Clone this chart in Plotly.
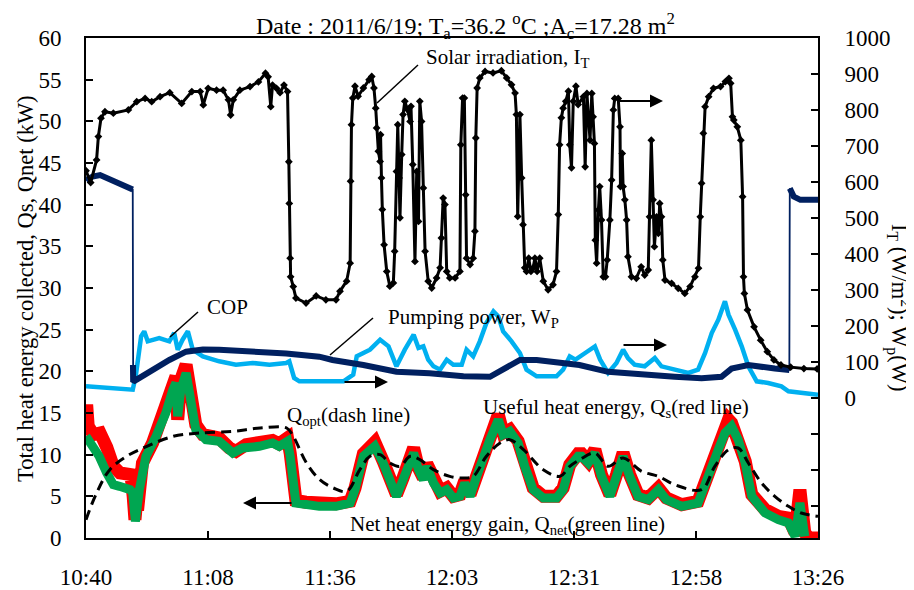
import plotly.graph_objects as go

# ---------------- data ----------------
x_tick_vals = [0, 27.67, 55.33, 83.0, 110.67, 138.33, 166.0]   # minutes after 10:40
x_tick_text = ["10:40", "11:08", "11:36", "12:03", "12:31", "12:58", "13:26"]

# Solar irradiation I_T (W/m2)  (minute, value)
solar = [(0, 631), (1.06, 598), (2.4, 661), (2.8, 726), (3.4, 777), (4.3, 795), (6.2, 791), (9.6, 800),
         (11.5, 823), (13.4, 832), (14.9, 823), (16.8, 837), (19, 848), (21.7, 818), (24, 851), (25.9, 851),
         (26.6, 814), (27.7, 860), (29.6, 855), (31.1, 855), (32.3, 828), (32.8, 786), (33.4, 828), (34.9, 855),
         (37.2, 865), (39.1, 878), (40.7, 902), (41.3, 892), (41.9, 809), (42.3, 869), (43.2, 860), (44, 848),
         (44.9, 869), (45.7, 851), (46, 656), (46.1, 540), (46.3, 388), (46.4, 336), (47, 309), (47.6, 277),
         (49.9, 263), (52.2, 283), (54.4, 272), (56.7, 272), (57.6, 296), (59.1, 324), (59.9, 374), (60.0, 602),
         (60.2, 759), (60.5, 833), (61, 866), (61.7, 838), (62.9, 861), (64.2, 884), (64.8, 893), (65.3, 861),
         (65.7, 805), (65.9, 750), (66.3, 685), (66.7, 657), (66.8, 731), (67, 611), (67.2, 523), (67.6, 425),
         (68.2, 351), (68.9, 310), (69.7, 319), (70, 407), (70.4, 629), (70.7, 759), (71, 611), (71.2, 500),
         (71.6, 676), (71.9, 787), (72.3, 824), (72.9, 801), (73.5, 768), (73.7, 810), (74.1, 648), (74.6, 379),
         (75.0, 629), (75.4, 490), (75.7, 824), (76.1, 768), (76.5, 583), (76.9, 407), (77.6, 324), (78.4, 305),
         (79.5, 333), (80.3, 361), (80.6, 444), (81, 555), (81.4, 537), (81.8, 351), (82.5, 333), (83.7, 333),
         (84.8, 351), (85.0, 703), (85.4, 833), (85.8, 833), (86.1, 564), (86.3, 388), (87.1, 370), (87.8, 388),
         (88.2, 463), (88.4, 722), (88.7, 861), (89.3, 889), (90.5, 907), (92.3, 903), (94.2, 909), (95.4, 889),
         (96.5, 870), (97.3, 847), (97.6, 787), (97.9, 504), (98.4, 787), (98.8, 611), (99.1, 481), (99.5, 361),
         (99.9, 351), (100.4, 388), (100.9, 351), (101.4, 361), (101.8, 388), (102.3, 351), (102.9, 388),
         (103.7, 324), (104.8, 300), (105.9, 314), (106.7, 351), (107.1, 509), (107.4, 703), (107.8, 778),
         (108.2, 805), (108.8, 824), (109.4, 852), (109.7, 703), (110.1, 639), (110.5, 824), (111.1, 866),
         (111.6, 815), (112.8, 837), (113.2, 642), (113.6, 846), (114.3, 716), (114.7, 846), (115.0, 781),
         (115.3, 707), (115.5, 438), (115.8, 374), (116.2, 522), (116.5, 587), (116.9, 494), (117.3, 336),
         (117.8, 336), (118.2, 383), (118.8, 494), (119.2, 605), (119.6, 800), (119.9, 832), (120.7, 832),
         (121.1, 753), (121.2, 587), (121.6, 679), (121.8, 587), (122.2, 550), (122.6, 494), (122.9, 392),
         (123.7, 336), (124.8, 332), (125.9, 364), (126.7, 341), (127.5, 355), (127.8, 503), (128.2, 716),
         (128.6, 550), (128.9, 420), (129.4, 503), (129.8, 457), (130.1, 540), (130.5, 503), (130.8, 383),
         (131.3, 327), (132.8, 318), (134.3, 304), (135.8, 290), (137, 309), (138.1, 336), (138.9, 360),
         (139.3, 503), (139.6, 596), (140, 735), (140.4, 809), (141.2, 837), (142.3, 860), (143.9, 865),
         (145, 879), (145.8, 888), (146.2, 874), (146.6, 781), (146.9, 772), (147.7, 753), (148.5, 716),
         (148.9, 559), (149.1, 336), (149.3, 290), (150.0, 244), (151.5, 197), (153, 160), (154.5, 128),
         (156, 105), (157.6, 91), (159.8, 85), (162.8, 81), (165.8, 80)]

# Pumping power W_P (W)
pump = [(0, 605), (1.5, 615), (3.2, 619), (6, 605), (9, 590), (10.6, 579), (10.65, 91), (10.7, 44),
        (11.3, 49), (15.1, 77), (18.9, 105), (22.7, 128), (26.5, 134), (30.2, 133), (37.8, 130), (45.4, 123),
        (52.9, 114), (55.9, 105), (62.9, 91), (70.4, 72), (77.9, 68), (85.6, 60), (91.6, 58), (94.6, 77),
        (98.4, 105), (102.2, 105), (108.2, 96), (111.9, 91), (118.4, 72), (126, 63), (133.5, 58), (139.6, 54),
        (144.1, 58), (146.4, 81), (150.2, 91), (156.2, 81), (159.5, 77), (159.6, 582), (160.5, 559),
        (162, 550), (166, 550)]

# COP
cop = [(0, 18.2), (5, 18.0), (10.6, 17.8), (11.3, 19.5), (12.5, 24.2), (13.2, 24.8), (14, 23.6), (16.6, 24.0),
       (18.9, 23.6), (20, 24.6), (20.8, 22.6), (21.9, 23.8), (23.1, 24.8), (24.2, 22.6), (26.5, 21.8),
       (30.2, 21.2), (34, 20.8), (37.8, 21.0), (41.6, 20.8), (45.4, 21.0), (46.1, 21.2), (47.2, 19.2),
       (48.4, 18.8), (52.9, 18.8), (56.7, 18.8), (58.4, 18.8), (60.6, 19.6), (61.4, 21.8), (62.9, 22.2),
       (64.4, 22.6), (66.7, 23.8), (68.6, 23.0), (70.4, 20.6), (72.3, 22.6), (74.3, 24.4), (75.4, 22.8),
       (76.5, 23.0), (77.6, 21.4), (78.8, 20.6), (80.3, 20.2), (81.8, 21.4), (83.3, 20.8), (85.2, 20.8),
       (86.3, 22.6), (87.8, 21.8), (89.3, 23.6), (90.8, 25.8), (92.4, 27.2), (93.5, 26.6), (94.6, 24.8),
       (96.5, 23.6), (98.4, 22.2), (99.9, 20.2), (102.2, 19.4), (106.7, 19.4), (108.2, 20.2), (109.7, 21.8),
       (111, 21.4), (113.2, 22.2), (115.4, 23.0), (116.6, 21.4), (118.4, 19.8), (120.3, 21.0), (121.8, 22.6),
       (122.9, 21.6), (124.4, 20.8), (126.7, 20.6), (129, 21.6), (130.5, 20.6), (133.5, 20.2), (136.6, 19.8),
       (138.8, 20.2), (140.4, 22.2), (141.9, 24.6), (143.4, 26.2), (144.9, 28.4), (145.7, 26.8), (147.2, 25.0),
       (148.7, 23.0), (150.2, 20.6), (152.1, 18.8), (154.7, 18.6), (157.7, 18.2), (159.3, 17.6), (162.2, 17.4),
       (166, 17.2)]

# Useful heat energy Q_s (kW)
q_s = [(0, 13.8), (0.15, 16.0), (0.5, 13.4), (1.7, 12.4), (3.2, 12.6), (4.7, 10.9), (6.2, 8.6), (7.7, 7.8),
       (10.2, 7.6), (10.7, 5.0), (11.1, 2.2), (11.5, 4.5), (11.9, 4.4), (12.8, 9.0), (15.1, 11.4), (17.4, 14.6),
       (19.3, 17.0), (20.4, 19.4), (20.8, 14.2), (21.5, 19.0), (22.7, 20.8), (23.4, 19.0), (24.9, 13.6),
       (26.5, 12.4), (30.2, 12.0), (32.5, 10.8), (34, 10.4), (36.3, 11.2), (39.3, 11.3), (42.3, 11.7),
       (43.8, 11.3), (45.7, 12.0), (46.3, 10.2), (46.9, 6.2), (47.6, 4.5), (49.9, 4.3), (52.2, 4.2), (54.4, 4.1),
       (56.7, 4.1), (59.9, 4.4), (61, 6.0), (62.9, 10.1), (64.4, 10.9), (65.5, 11.5), (67.4, 9.2), (68.9, 6.8),
       (70.4, 5.2), (71.9, 7.2), (74.3, 10.8), (75.4, 8.4), (76.5, 7.2), (77.3, 8.9), (78.8, 6.8), (80.3, 5.6),
       (81.8, 6.0), (83.3, 5.0), (84.8, 5.2), (85.9, 6.9), (87.1, 5.2), (88.6, 7.6), (90.1, 10.0), (91.6, 12.0),
       (93.5, 14.8), (94.6, 12.6), (96.1, 13.0), (98, 11.6), (99.5, 8.8), (101.4, 6.0), (103.7, 5.0),
       (106.7, 5.0), (108.2, 6.0), (109.7, 8.8), (111.6, 10.1), (112.4, 10.1), (113.9, 9.2), (115.4, 10.6),
       (116.9, 7.6), (118.8, 5.2), (120.3, 7.6), (121.8, 10.2), (123.3, 7.6), (125.2, 5.2), (127.5, 4.8),
       (129.8, 6.0), (131.6, 4.8), (135.1, 4.0), (138.8, 4.4), (140.4, 6.8), (141.9, 9.2), (143.4, 10.9),
       (144.9, 13.0), (145.7, 14.2), (146.4, 13.8), (147.9, 12.0), (149.5, 9.2), (151, 5.2), (154, 3.4),
       (157, 2.6), (159.3, 2.4), (160.8, 0.6), (161.9, 5.8), (163, 0.6), (164, 0.0), (166, 0.0)]

# Net heat energy gain Q_net (kW)
q_net = [(0, 12.2), (1, 11.4), (2.4, 10.2), (3, 9.8), (4.7, 7.8), (6.2, 6.4), (7.6, 6.2), (10, 5.8), (10.6, 5.4),
         (10.9, 2.2), (11.2, 2.0), (12.1, 5.8), (13.6, 9.8), (15.9, 12.2), (18.1, 15.0), (19.7, 17.8),
         (20.4, 18.6), (20.8, 14.6), (21.5, 17.8), (22.7, 19.8), (23.4, 17.8), (24.9, 13.0), (27.2, 11.8),
         (30.2, 11.6), (33.3, 10.2), (35.5, 10.8), (39.3, 11.0), (42.3, 11.4), (43.8, 11.0), (45.7, 11.6),
         (46.3, 9.8), (46.9, 5.8), (47.6, 4.2), (52.9, 3.8), (56.7, 3.8), (59.9, 4.2), (61, 5.8), (62.9, 9.8),
         (64.4, 10.6), (65.5, 11.0), (67.4, 9.0), (68.9, 6.6), (70.4, 5.0), (71.9, 7.0), (74.3, 10.2), (75.4, 8.2),
         (76.5, 7.0), (77.3, 8.6), (78.8, 6.6), (80.3, 5.4), (81.8, 5.8), (83.3, 4.8), (84.8, 5.0), (85.9, 6.6),
         (87.1, 5.0), (88.6, 7.4), (90.1, 9.8), (91.6, 11.8), (93.5, 14.2), (94.6, 12.4), (96.1, 12.8),
         (98, 11.4), (99.5, 8.6), (101.4, 5.8), (103.7, 4.8), (106.7, 4.8), (108.2, 5.8), (109.7, 8.6),
         (111.6, 9.8), (112.4, 9.8), (113.9, 9.0), (115.4, 10.2), (116.9, 7.4), (118.8, 5.0), (120.3, 7.4),
         (121.8, 9.8), (123.3, 7.4), (125.2, 5.0), (127.5, 4.6), (129.8, 5.8), (131.6, 4.6), (135.1, 3.8),
         (138.8, 4.2), (140.4, 6.6), (141.9, 9.0), (143.4, 10.6), (144.9, 12.6), (146.4, 13.4), (147.9, 11.8),
         (149.5, 9.0), (151, 5.0), (154, 3.0), (157, 2.2), (159.3, 1.8), (160.8, 0.2), (161.9, 4.2), (163, 0.2)]

# Optimal heat Q_opt (kW)
q_opt = [(0, 2.2), (2.4, 5.4), (5.4, 8.2), (9.2, 9.8), (13.8, 11.0), (19.8, 12.2), (25.8, 12.6), (33.4, 12.8),
         (39.5, 13.2), (45.5, 13.2), (47, 12.2), (50, 9.0), (53, 7.0), (56.1, 6.0), (59.1, 5.6), (62.1, 8.2),
         (64.4, 9.8), (66.7, 10.0), (68.9, 9.0), (71.2, 8.6), (73.5, 9.8), (75.7, 9.4), (78.8, 8.2), (82.5, 7.4),
         (85.6, 7.2), (87.8, 7.4), (90.8, 9.8), (93.9, 11.4), (96.1, 11.8), (99.2, 10.6), (103.7, 8.2),
         (107.5, 7.4), (109.7, 8.6), (112, 9.4), (115.4, 10.2), (118.4, 8.6), (121.8, 9.6), (126, 8.0),
         (129.8, 7.4), (133.5, 6.4), (139.6, 5.8), (142.6, 8.6), (145.7, 10.6), (147.9, 10.8), (150.2, 9.0),
         (153.2, 6.6), (156.2, 5.0), (159.3, 3.8), (162.2, 3.0), (166, 2.6)]


def unzip(pairs):
    return [p[0] for p in pairs], [p[1] for p in pairs]


FONT = "Liberation Serif"
fig = go.Figure()

# Q_s (red) and Q_net (green) bands
x, y = unzip(q_s)
fig.add_trace(go.Scatter(x=x, y=y, mode="lines", line=dict(color="#FF0000", width=13), yaxis="y"))
x, y = unzip(q_net)
fig.add_trace(go.Scatter(x=x, y=y, mode="lines", line=dict(color="#00A651", width=9), yaxis="y"))
# Q_opt dashed
x, y = unzip(q_opt)
fig.add_trace(go.Scatter(x=x, y=y, mode="lines",
                         line=dict(color="black", width=3, dash="10px,6px", shape="spline"), yaxis="y"))
# COP
x, y = unzip(cop)
fig.add_trace(go.Scatter(x=x, y=y, mode="lines", line=dict(color="#00B0F0", width=4.5), yaxis="y"))

# Pumping power: thin full line + thick segments between jumps
x, y = unzip(pump)
fig.add_trace(go.Scatter(x=x, y=y, mode="lines", line=dict(color="#002060", width=1.8), yaxis="y2"))
seg_start = 0
for i in range(1, len(y) + 1):
    if i == len(y) or abs(y[i] - y[i - 1]) > 300:
        xs, ys = x[seg_start:i], y[seg_start:i]
        if len(xs) > 1:
            fig.add_trace(go.Scatter(x=xs, y=ys, mode="lines", line=dict(color="#002060", width=6),
                                     yaxis="y2"))
        seg_start = i

# Solar irradiation
x, y = unzip(solar)
fig.add_trace(go.Scatter(x=x, y=y, mode="lines+markers", line=dict(color="black", width=3),
                         marker=dict(symbol="diamond", size=6, color="black"), yaxis="y2"))


# positions given in screen pixels of the 914x590 view (plot area 86..818 x 38..538)
def px(xp):
    return (xp - 86) / 732.0


def py(yp):
    return (538 - yp) / 500.0


ann_font = dict(family=FONT, size=21, color="black")
annotations = [
    dict(x=px(465), y=py(26), text="Date : 2011/6/19; T<sub>a</sub>=36.2 <sup>o</sup>C ;A<sub>c</sub>=17.28 m<sup>2</sup>",
         xanchor="center", yanchor="middle", font=dict(family=FONT, size=24, color="black")),
    dict(x=px(25), y=py(289), text="Total heat energy collected, Qs, Qnet (kW)", textangle=-90,
         xanchor="center", yanchor="middle", font=dict(family=FONT, size=22.5, color="black")),
    dict(x=px(899), y=py(307), text="I<sub>T</sub> (W/m<sup>2</sup>); W<sub>p</sub>(W)", textangle=90,
         xanchor="center", yanchor="middle", font=dict(family=FONT, size=22.5, color="black")),
    dict(x=px(424), y=py(58), text="Solar irradiation, I<sub>T</sub>", xanchor="left", yanchor="middle", font=ann_font),
    dict(x=px(227), y=py(307), text="COP", xanchor="center", yanchor="middle", font=ann_font),
    dict(x=px(386), y=py(318), text="Pumping power, W<sub>P</sub>", xanchor="left", yanchor="middle", font=ann_font),
    dict(x=px(285), y=py(416), text="Q<sub>opt</sub>(dash line)", xanchor="left", yanchor="middle", font=ann_font),
    dict(x=px(481), y=py(408), text="Useful heat energy, Q<sub>s</sub>(red line)", xanchor="left", yanchor="middle",
         font=ann_font),
    dict(x=px(348), y=py(525), text="Net heat energy gain, Q<sub>net</sub>(green line)", xanchor="left",
         yanchor="middle", font=ann_font),
]
for a in annotations:
    a.update(xref="paper", yref="paper", showarrow=False)

# arrows (head position, tail offset in px)
arrows = [((663, 101), -47), ((388, 382), -45), ((667, 345), -45), ((243, 503), 50)]
for (hx, hy), dx in arrows:
    annotations.append(dict(x=px(hx), y=py(hy), xref="paper", yref="paper", text="", showarrow=True,
                            ax=dx, ay=0, arrowhead=2, arrowsize=1.3, arrowwidth=2, arrowcolor="black"))

# leader lines
leaders = [((377, 103), (418, 65)), ((170, 337), (198, 312)), ((330, 355), (373, 318))]
shapes = []
for (x0, y0), (x1, y1) in leaders:
    shapes.append(dict(type="line", xref="paper", yref="paper", x0=px(x0), y0=py(y0), x1=px(x1), y1=py(y1),
                       line=dict(color="black", width=1.5)))

right_ticks = list(range(-300, 1001, 100))
right_text = ["" if v < 0 else str(v) for v in right_ticks]
tick_font = dict(family=FONT, size=23, color="black")

# the page body adds an 8px offset, so the figure is 906x582 with margins reduced by 8
fig.update_layout(
    width=906, height=582,
    margin=dict(l=78, r=96, t=30, b=52, autoexpand=False),
    plot_bgcolor="white", paper_bgcolor="white",
    showlegend=False,
    font=dict(family=FONT, size=21, color="black"),
    annotations=annotations,
    shapes=shapes,
    xaxis=dict(range=[0, 166], tickvals=x_tick_vals, ticktext=x_tick_text, ticks="inside", ticklen=7,
               tickwidth=2, tickcolor="black", showline=True, linewidth=2, linecolor="black", mirror=True,
               showgrid=False, zeroline=False, ticklabelstandoff=17, automargin=False, tickfont=tick_font),
    yaxis=dict(range=[0, 60], tick0=0, dtick=5, ticks="inside", ticklen=7, tickwidth=2, tickcolor="black",
               showline=True, linewidth=2, linecolor="black", showgrid=False, zeroline=False,
               ticklabelstandoff=18, automargin=False, tickfont=tick_font),
    yaxis2=dict(range=[-390, 1000], overlaying="y", side="right", tickvals=right_ticks, ticktext=right_text,
                ticks="inside", ticklen=7, tickwidth=2, tickcolor="black", showline=True, linewidth=2,
                linecolor="black", showgrid=False, zeroline=False, ticklabelstandoff=20, automargin=False,
                tickfont=tick_font),
)

fig.write_html("out.html")
